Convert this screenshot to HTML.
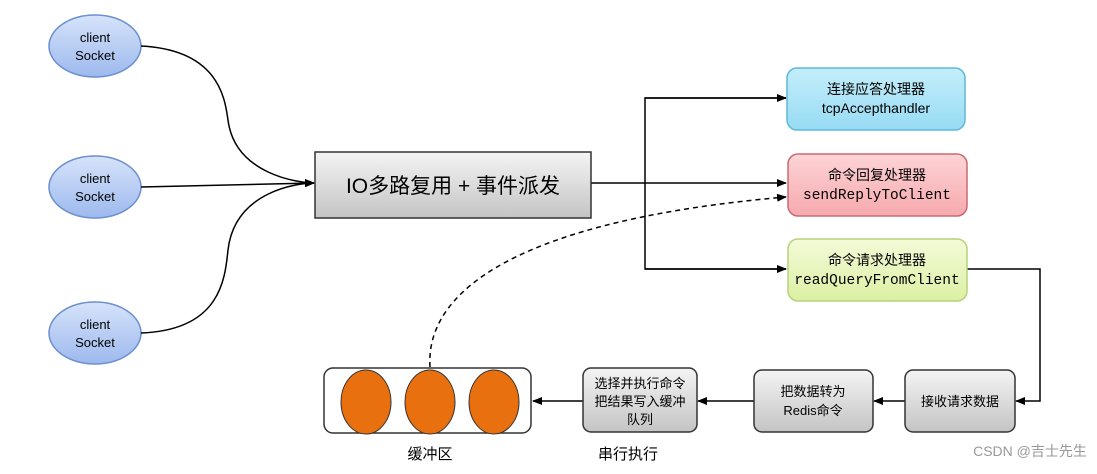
<!DOCTYPE html>
<html><head><meta charset="utf-8"><style>
body{margin:0;background:#fff;}
svg text{font-family:"Liberation Sans","Noto Sans CJK SC",sans-serif;}
.mono{font-family:"Liberation Mono","Noto Sans CJK SC",monospace;}
</style></head><body>
<svg width="1097" height="469" viewBox="0 0 1097 469" xmlns="http://www.w3.org/2000/svg">
<defs>
<linearGradient id="gb" x1="0" y1="0" x2="0" y2="1"><stop offset="0" stop-color="#d6e3fa"/><stop offset="1" stop-color="#9db9ee"/></linearGradient>
<linearGradient id="gg" x1="0" y1="0" x2="0" y2="1"><stop offset="0" stop-color="#f4f4f4"/><stop offset="1" stop-color="#c4c4c4"/></linearGradient>
<linearGradient id="gc" x1="0" y1="0" x2="0" y2="1"><stop offset="0" stop-color="#c4eefa"/><stop offset="1" stop-color="#97dbf4"/></linearGradient>
<linearGradient id="gp" x1="0" y1="0" x2="0" y2="1"><stop offset="0" stop-color="#fdd4d6"/><stop offset="1" stop-color="#f6a9ae"/></linearGradient>
<linearGradient id="gy" x1="0" y1="0" x2="0" y2="1"><stop offset="0" stop-color="#f4fad8"/><stop offset="1" stop-color="#dcf0a4"/></linearGradient>
<marker id="ar" markerWidth="10" markerHeight="8" refX="9" refY="4" orient="auto" markerUnits="userSpaceOnUse"><path d="M0,0 L10,4 L0,8 z" fill="#000"/></marker>
</defs>
<g stroke="#6b8fcf" stroke-width="1.5" fill="url(#gb)">
<ellipse cx="95" cy="46" rx="46" ry="31"/>
<ellipse cx="95" cy="187" rx="46" ry="31"/>
<ellipse cx="95" cy="333" rx="46" ry="31"/>
</g>
<g font-size="13" text-anchor="middle" fill="#000">
<text x="95" y="42">client</text><text x="95" y="60">Socket</text>
<text x="95" y="183">client</text><text x="95" y="201">Socket</text>
<text x="95" y="329">client</text><text x="95" y="347">Socket</text>
</g>
<g fill="none" stroke="#000" stroke-width="1.5">
<path d="M141,46 C220,50 225,100 228,120 C235,175 300,183 314,183" marker-end="url(#ar)"/>
<path d="M141,187 L314,183" marker-end="url(#ar)"/>
<path d="M141,333 C220,330 225,280 228,250 C235,190 300,183 314,183" marker-end="url(#ar)"/>
<path d="M591,183 L786,183" marker-end="url(#ar)"/>
<path d="M786,98 L645,98 L645,269 L786,269" />
<path d="M645,98 L786,98" marker-end="url(#ar)"/>
<path d="M645,269 L786,269" marker-end="url(#ar)"/>
<path d="M967,269 L1040,269 L1040,401 L1016,401" marker-end="url(#ar)"/>
<path d="M905,401 L874,401" marker-end="url(#ar)"/>
<path d="M754,401 L698,401" marker-end="url(#ar)"/>
<path d="M583,401 L533,401" marker-end="url(#ar)"/>
<path d="M430,367 C425,290 520,220 786,197" stroke-dasharray="5,4" marker-end="url(#ar)"/>
</g>
<rect x="315" y="152" width="276" height="66" fill="url(#gg)" stroke="#333" stroke-width="1.5"/>
<text x="453" y="193" font-size="21" text-anchor="middle">IO多路复用 + 事件派发</text>
<rect x="787" y="68" width="178" height="62" rx="10" fill="url(#gc)" stroke="#5fb8d6" stroke-width="1.5"/>
<text x="876" y="94" font-size="14" text-anchor="middle">连接应答处理器</text>
<text x="876" y="113" font-size="14" text-anchor="middle">tcpAccepthandler</text>
<rect x="788" y="154" width="179" height="62" rx="10" fill="url(#gp)" stroke="#c86a72" stroke-width="1.5"/>
<text x="877" y="180" font-size="14" text-anchor="middle">命令回复处理器</text>
<text x="877" y="199" font-size="14.5" text-anchor="middle" class="mono">sendReplyToClient</text>
<rect x="788" y="239" width="179" height="62" rx="10" fill="url(#gy)" stroke="#b6d27a" stroke-width="1.5"/>
<text x="877" y="265" font-size="14" text-anchor="middle">命令请求处理器</text>
<text x="877" y="284" font-size="14.5" text-anchor="middle" class="mono">readQueryFromClient</text>
<g fill="url(#gg)" stroke="#333" stroke-width="1.5">
<rect x="905" y="370" width="110" height="62" rx="8"/>
<rect x="754" y="370" width="119" height="62" rx="8"/>
<rect x="583" y="368" width="114" height="64" rx="8"/>
</g>
<rect x="324" y="368" width="207" height="65" rx="9" fill="#fff" stroke="#333" stroke-width="1.5"/>
<g fill="#e8700e" stroke="#333" stroke-width="1">
<ellipse cx="366" cy="402" rx="25" ry="32"/>
<ellipse cx="430" cy="402" rx="25" ry="32"/>
<ellipse cx="494" cy="402" rx="25" ry="32"/>
</g>
<g font-size="13" text-anchor="middle">
<text x="960" y="406">接收请求数据</text>
<text x="813" y="396">把数据转为</text><text x="813" y="415">Redis命令</text>
<text x="640" y="388">选择并执行命令</text><text x="640" y="406">把结果写入缓冲</text><text x="640" y="424">队列</text>
</g>
<text x="430" y="459" font-size="15" text-anchor="middle">缓冲区</text>
<text x="628" y="459" font-size="15" text-anchor="middle">串行执行</text>
<text x="1030" y="456" font-size="14" text-anchor="middle" fill="#999">CSDN @吉士先生</text>
</svg>
</body></html>
